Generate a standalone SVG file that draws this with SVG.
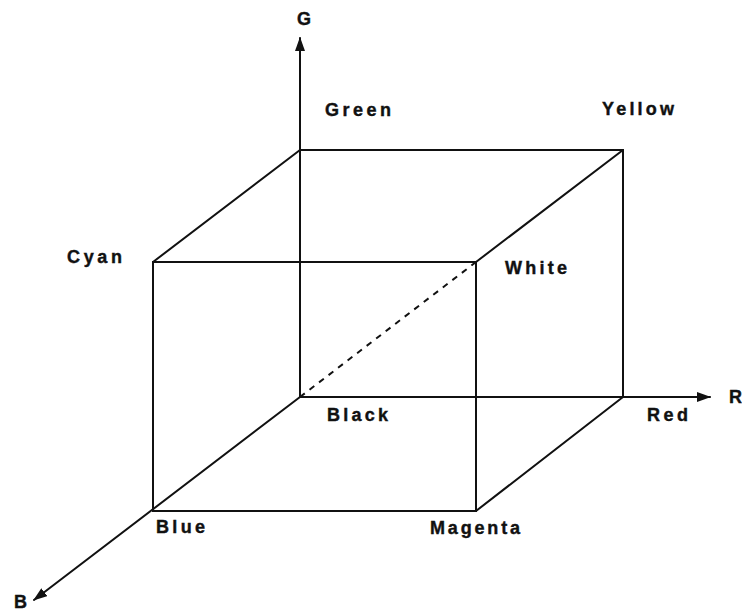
<svg xmlns="http://www.w3.org/2000/svg" width="742" height="611" viewBox="0 0 742 611">
<style>
.e{stroke:#111;stroke-width:2;fill:none;stroke-linecap:round}
.d{stroke:#111;stroke-width:2;fill:none;stroke-dasharray:6,6}
.t{font-family:"Liberation Sans",Arial,sans-serif;font-weight:bold;font-size:18px;fill:#111;stroke:#111;stroke-width:0.4}
</style>
<defs>
<marker id="ah" markerWidth="14" markerHeight="10" refX="13" refY="5" orient="auto" markerUnits="userSpaceOnUse">
<path d="M0,0 L14,5 L0,10 Z" fill="#111"/>
</marker>
</defs>
<rect width="742" height="611" fill="#fff"/>
<g id="connectors">
<line class="e" x1="300" y1="397" x2="300" y2="38" marker-end="url(#ah)"/>
<line class="e" x1="300" y1="397" x2="710" y2="397" marker-end="url(#ah)"/>
<line class="e" x1="300" y1="397" x2="34" y2="600" marker-end="url(#ah)"/>
<line class="e" x1="300" y1="150" x2="623" y2="150"/>
<line class="e" x1="623" y1="150" x2="623" y2="397"/>
<rect class="e" x="153" y="262" width="323" height="249"/>
<line class="e" x1="300" y1="150" x2="153" y2="262"/>
<line class="e" x1="623" y1="150" x2="476" y2="262"/>
<line class="e" x1="623" y1="397" x2="476" y2="511"/>
<line class="d" x1="300" y1="397" x2="476" y2="262"/>
</g>
<g id="G"><text class="t" x="297" y="25">G</text></g>
<g id="Green"><text class="t" x="325" y="116" textLength="66" lengthAdjust="spacing">Green</text></g>
<g id="Yellow"><text class="t" x="602" y="115" textLength="72" lengthAdjust="spacing">Yellow</text></g>
<g id="Cyan"><text class="t" x="67" y="263" textLength="55" lengthAdjust="spacing">Cyan</text></g>
<g id="White"><text class="t" x="505" y="274" textLength="62" lengthAdjust="spacing">White</text></g>
<g id="Black"><text class="t" x="327" y="421" textLength="61" lengthAdjust="spacing">Black</text></g>
<g id="Red"><text class="t" x="647" y="421" textLength="41" lengthAdjust="spacing">Red</text></g>
<g id="R"><text class="t" x="729" y="403">R</text></g>
<g id="Blue"><text class="t" x="156" y="533" textLength="49" lengthAdjust="spacing">Blue</text></g>
<g id="Magenta"><text class="t" x="430" y="534" textLength="90" lengthAdjust="spacing">Magenta</text></g>
<g id="B"><text class="t" x="14" y="608">B</text></g>
</svg>
